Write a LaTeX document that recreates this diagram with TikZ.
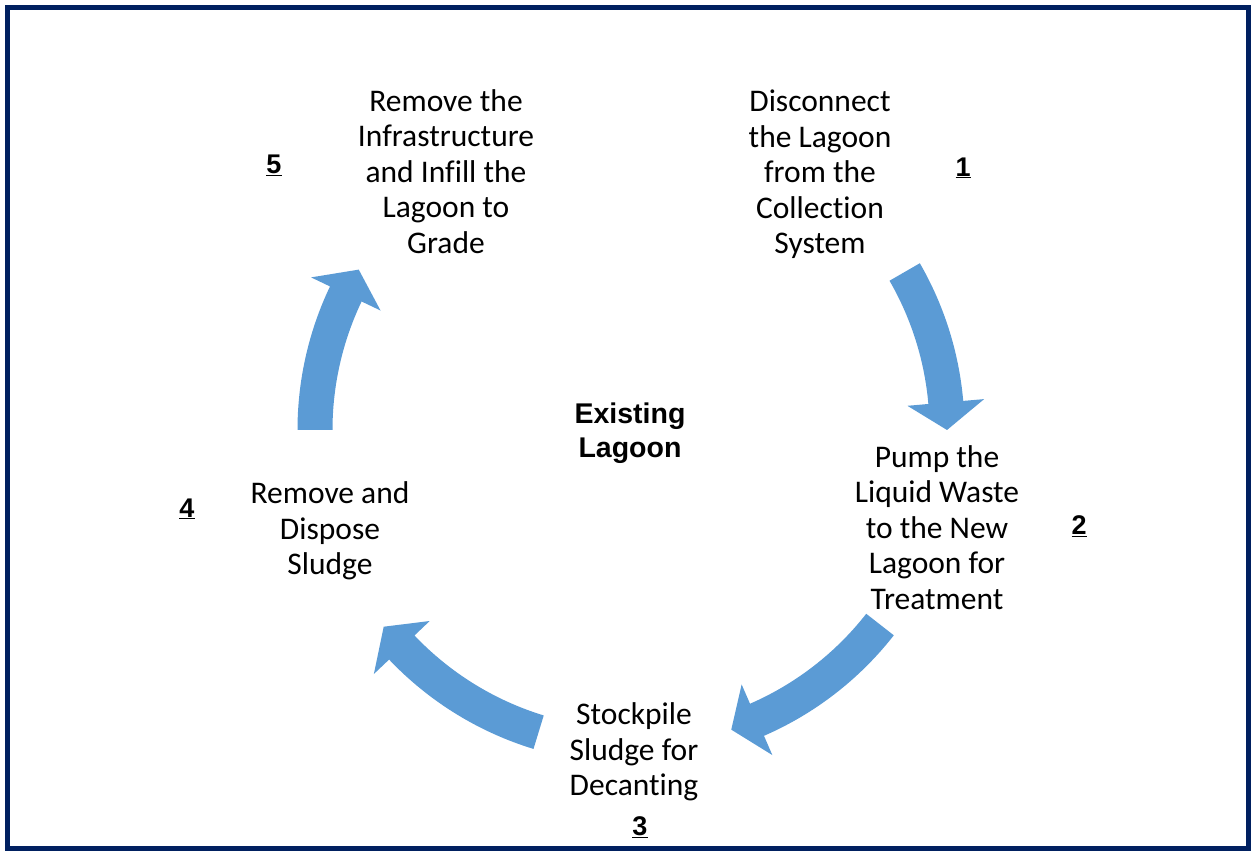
\documentclass[tikz,border=0pt]{standalone}
\usepackage{fontspec}
\setmainfont{Carlito}[Ligatures={NoCommon,NoContextual}]
\newfontfamily\headfont{Liberation Sans}
\usepackage{xcolor}
\usepackage{tikz}
\definecolor{framenavy}{HTML}{002060}
\definecolor{arrowblue}{HTML}{5B9BD5}

\begin{document}
\begin{tikzpicture}[x=1pt, y=1pt,
  stagetext/.style={align=center, inner sep=0pt, font=\fontsize{31.5}{35.5}\selectfont},
  stagenum/.style={inner sep=0pt, font=\headfont\bfseries\fontsize{27}{30}\selectfont},
  blockarrow/.style={fill=arrowblue, draw=none}]
\useasboundingbox (0,0) rectangle (1251,851);
\draw[framenavy, line width=5pt] (7.5,2.5) rectangle (1248.5,843.5);

\node[align=center, inner sep=0pt, font=\headfont\bfseries\fontsize{28.5}{34}\selectfont] (lagoon) at (630,418) {Existing\\Lagoon};

\node[stagetext] (disconnect) at (820,676.5) {Disconnect\\the Lagoon\\from the\\Collection\\System};
\node[stagetext] (pump) at (937,323.5) {Pump the\\Liquid Waste\\to the New\\Lagoon for\\Treatment};
\node[stagetext] (stockpile) at (634,99) {Stockpile\\Sludge for\\Decanting};
\node[stagetext] (dispose) at (330,320) {Remove and\\Dispose\\Sludge};
\node[stagetext] (infill) at (446,679.5) {Remove the\\Infrastructure\\and Infill the\\Lagoon to\\Grade};

\node[stagenum] (n1) at (963,683) {\underline{1}};
\node[stagenum] (n2) at (1079,325) {\underline{2}};
\node[stagenum] (n3) at (640,24) {\underline{3}};
\node[stagenum] (n4) at (187,342) {\underline{4}};
\node[stagenum] (n5) at (274,686) {\underline{5}};

% curved block arrows round the lagoon
\coordinate (hub) at (631,421);
\begin{scope}[shift={(hub)}]
\fill[blockarrow] (30:298.5) arc[start angle=30, end angle=5, radius=298.5] -- (5:277.5) -- (0:316) -- (5:354.5) -- (5:333.5) arc[start angle=5, end angle=30, radius=333.5] -- cycle;
\fill[blockarrow] (-38:298.5) arc[start angle=-38, end angle=-66.5, radius=298.5] -- (-66.5:277.5) -- (-71.5:316) -- (-66.5:354.5) -- (-66.5:333.5) arc[start angle=-66.5, end angle=-38, radius=333.5] -- cycle;
\fill[blockarrow] (-107:298.5) arc[start angle=-107, end angle=-136.5, radius=298.5] -- (-136.5:277.5) -- (-141.5:316) -- (-136.5:354.5) -- (-136.5:333.5) arc[start angle=-136.5, end angle=-107, radius=333.5] -- cycle;
\fill[blockarrow] (180:298.5) arc[start angle=180, end angle=154.5, radius=298.5] -- (154.5:277.5) -- (149.5:316) -- (154.5:354.5) -- (154.5:333.5) arc[start angle=154.5, end angle=180, radius=333.5] -- cycle;
\end{scope}
\end{tikzpicture}
\end{document}
